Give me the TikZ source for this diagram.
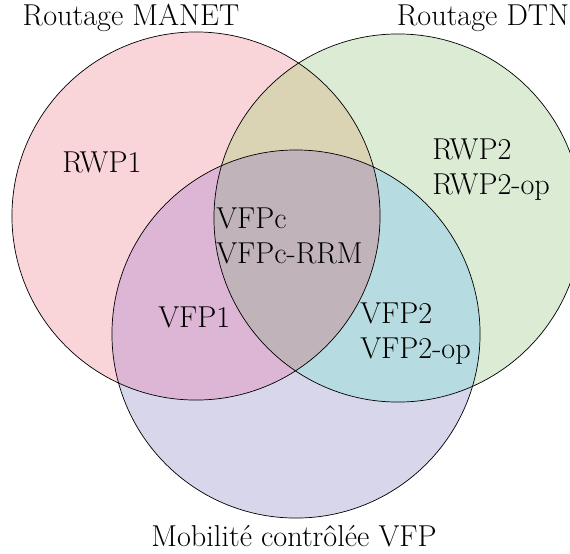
\documentclass[tikz,border=0pt]{standalone}
\usepackage{tikz}
\usetikzlibrary{positioning}
\definecolor{manet}{HTML}{F9D5DA}
\definecolor{dtn}{HTML}{DCEBD4}
\definecolor{vfp}{HTML}{D8D6EB}
\definecolor{manetdtn}{HTML}{DAD4B5}
\definecolor{manetvfp}{HTML}{DDB5D5}
\definecolor{dtnvfp}{HTML}{B6DBE1}
\definecolor{allthree}{HTML}{C0B4BA}

\begin{document}
\begin{tikzpicture}[x=0.025cm, y=-0.025cm,
  lbl/.style={font=\fontsize{21.5}{25}\selectfont, inner sep=0pt},
  grp/.style={lbl, align=left, anchor=west},
  ring/.style={draw=black, line width=0.5pt}
]
\useasboundingbox (0,0) rectangle (570,553);
\def\rr{4.6cm}
\coordinate (m) at (196,216);
\coordinate (d) at (398,218);
\coordinate (v) at (296,334);
% disks
\fill[manet] (m) circle[radius=\rr];
\fill[dtn] (d) circle[radius=\rr];
\fill[vfp] (v) circle[radius=\rr];
% overlaps
\begin{scope}
  \clip (d) circle[radius=\rr];
  \fill[dtnvfp] (v) circle[radius=\rr];
\end{scope}
\begin{scope}
  \clip (m) circle[radius=\rr];
  \fill[manetdtn] (d) circle[radius=\rr];
  \fill[manetvfp] (v) circle[radius=\rr];
  \clip (d) circle[radius=\rr];
  \fill[allthree] (v) circle[radius=\rr];
\end{scope}
% outlines
\draw[ring] (m) circle[radius=\rr];
\draw[ring] (d) circle[radius=\rr];
\draw[ring] (v) circle[radius=\rr];
% set names
\node[lbl] (tmanet) at (131,18) {Routage MANET};
\node[lbl] (tdtn) at (483,18) {Routage DTN};
\node[lbl] (tvfp) at (294,536) {Mobilité contrôlée VFP};
% members
\node[grp] (rwp1) at (62,162) {RWP1};
\node[grp] (rwp2) at (432,170) {RWP2\\RWP2-op};
\node[grp] (vfpc) at (216,236) {VFPc\\VFPc-RRM};
\node[grp] (vfp1) at (158,317) {VFP1};
\node[grp] (vfp2) at (360,334) {VFP2\\VFP2-op};
\end{tikzpicture}
\end{document}
